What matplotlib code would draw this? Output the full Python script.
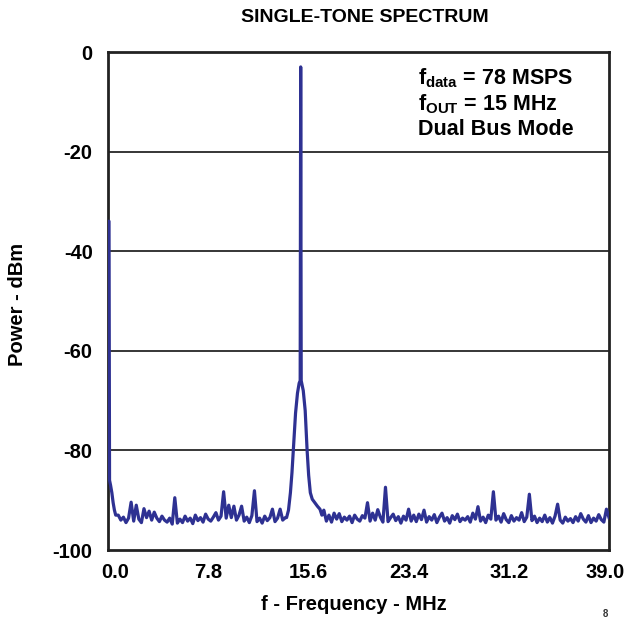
import numpy as np
import matplotlib
matplotlib.use("Agg")
import matplotlib.pyplot as plt
import matplotlib.transforms as mtransforms

plt.rcParams['font.family'] = ['Liberation Sans', 'DejaVu Sans']
plt.rcParams['font.weight'] = 'bold'
plt.rcParams['mathtext.fontset'] = 'custom'
plt.rcParams['mathtext.rm'] = 'Liberation Sans:bold'
plt.rcParams['mathtext.it'] = 'Liberation Sans:bold'
plt.rcParams['mathtext.bf'] = 'Liberation Sans:bold'

# Noise-floor trace on a 0.2 MHz grid, 0.0 .. 39.0 MHz (dBm)
grid_step = 0.2
noise_dbm = [
    -34.0, -88.0, -91.0, -92.5, -93.0, -94.0, -93.4, -94.5, -93.6, -90.4,
    -94.2, -91.0, -93.8, -94.5, -91.7, -93.5, -92.2, -94.0, -92.4, -93.6,
    -94.3, -93.2, -94.0, -94.4, -93.6, -94.8, -89.5, -94.6, -93.8, -94.5,
    -93.2, -94.2, -93.6, -94.7, -93.0, -94.1, -93.5, -94.4, -92.8, -93.8,
    -94.2, -93.4, -92.5, -94.0, -93.2, -88.3, -93.6, -91.0, -93.5, -91.2,
    -94.0, -93.0, -91.2, -94.2, -93.4, -94.5, -93.1, -88.1, -94.3, -93.6,
    -94.6, -93.2, -94.1, -93.5, -91.8, -94.3, -93.6, -91.8, -94.0, -93.5,
    -93.0, -88.5, -81.0, -74.0, -68.0, -3.0, -68.0, -72.0, -85.0, -88.0,
    -89.5, -90.5, -91.5, -92.5, -92.0, -94.2, -93.0, -94.4, -92.6, -93.8,
    -92.7, -94.3, -93.4, -94.0, -93.2, -94.5, -93.0, -93.8, -94.2, -93.1,
    -93.6, -90.5, -94.2, -92.6, -94.0, -91.9, -93.4, -94.4, -87.4, -94.3,
    -93.5, -92.8, -94.1, -93.3, -94.6, -93.2, -94.0, -91.8, -94.2, -93.0,
    -94.3, -92.8, -93.9, -92.0, -94.4, -93.3, -94.0, -92.9, -94.5, -93.4,
    -92.6, -94.2, -93.5, -94.6, -93.1, -93.9, -92.8, -94.3, -93.6, -94.0,
    -93.3, -94.4, -92.6, -93.8, -91.3, -94.2, -93.4, -94.5, -93.0, -93.8,
    -88.3, -94.0, -93.2, -94.4, -92.7, -93.9, -94.5, -93.1, -94.2, -93.5,
    -94.0, -92.5, -94.3, -93.4, -88.8, -94.1, -93.2, -94.5, -93.6, -94.3,
    -93.0, -94.4, -93.5, -94.6, -93.2, -90.8, -94.0, -94.6, -93.4, -94.2,
    -93.7, -94.5, -93.3, -94.2, -92.7, -93.8, -94.4, -93.1, -94.5, -93.6,
    -94.2, -92.9, -93.9, -94.4, -91.8, -93.5,
]

# Fine detail near DC
dc_mhz = [0.0, 0.08, 0.12, 0.2, 0.3, 0.4, 0.5, 0.6]
dc_dbm = [-34.0, -34.0, -86.0, -87.0, -88.5, -90.5, -92.0, -93.0]

# Fine detail around the 15 MHz tone
tone_mhz = [13.9, 14.05, 14.2, 14.32, 14.45, 14.6, 14.75, 14.88, 14.96, 15.0,
            15.04, 15.12, 15.2, 15.35, 15.5, 15.62, 15.75, 15.9, 16.1, 16.3,
            16.5, 16.65]
tone_dbm = [-93.5, -92.0, -88.5, -84.5, -79.0, -72.5, -68.5, -66.5, -66.0, -3.0,
            -66.0, -67.0, -68.0, -72.0, -80.0, -85.0, -88.5, -89.8, -90.5, -91.2,
            -91.8, -93.0]

x_ticks = [0.0, 7.8, 15.6, 23.4, 31.2, 39.0]
x_tick_labels = ["0.0", "7.8", "15.6", "23.4", "31.2", "39.0"]
y_ticks = [0, -20, -40, -60, -80, -100]
y_tick_labels = ["0", "-20", "-40", "-60", "-80", "-100"]

# Merge trace
grid_f = np.arange(len(noise_dbm)) * grid_step
grid_p = np.array(noise_dbm)
keep = (grid_f > 0.7) & ~((grid_f > 13.85) & (grid_f < 16.7))
f_all = np.concatenate([np.array(dc_mhz), grid_f[keep], np.array(tone_mhz)])
p_all = np.concatenate([np.array(dc_dbm), grid_p[keep], np.array(tone_dbm)])
order = np.argsort(f_all, kind="stable")
f_all = f_all[order]
p_all = p_all[order]

W, H = 629, 620
fig = plt.figure(figsize=(6.29, 6.20), dpi=100)
ax = fig.add_axes([108 / W, 1 - 550 / H, (609 - 108) / W, (550 - 52) / H])

for yv in [-20, -40, -60, -80]:
    ax.axhline(yv, color='black', lw=1.1, zorder=1)

ax.plot(f_all, p_all, color='#2E3192', lw=2.3, solid_joinstyle='round', zorder=3)

ax.set_xlim(0, 39)
ax.set_ylim(-100, 0)
ax.set_xticks(x_ticks)
ax.set_xticklabels(x_tick_labels)
ax.set_yticks(y_ticks)
ax.set_yticklabels(y_tick_labels)
ax.tick_params(axis='x', length=0, labelsize=14.5, pad=9)
ax.tick_params(axis='y', length=0, labelsize=14.5, pad=11)
for lbl in ax.get_xticklabels() + ax.get_yticklabels():
    lbl.set_fontweight('bold')

# nudge end x labels inward like the reference
xl = ax.get_xticklabels()
xl[0].set_transform(xl[0].get_transform() +
                    mtransforms.ScaledTranslation(7 / 100, 0, fig.dpi_scale_trans))
xl[-1].set_transform(xl[-1].get_transform() +
                     mtransforms.ScaledTranslation(-4 / 100, 0, fig.dpi_scale_trans))

for s in ax.spines.values():
    s.set_linewidth(2.0)
    s.set_color('#222222')

fig.text(365 / W, 1 - 18 / H, "SINGLE-TONE SPECTRUM", fontsize=14,
         fontweight='bold', ha='center', va='center')
fig.text(354 / W, 1 - 605 / H, "f - Frequency - MHz", fontsize=14.5,
         fontweight='bold', ha='center', va='center')
fig.text(18 / W, 1 - 304 / H, "Power - dBm", fontsize=14.5, rotation=90,
         fontweight='bold', ha='center', va='center')

ax.text(418 / W, 1 - 66 / H, r"f$_{\rm data}$ = 78 MSPS", transform=fig.transFigure,
        fontsize=15.5, fontweight='bold', va='top', ha='left')
ax.text(418 / W, 1 - 92 / H, r"f$_{\rm OUT}$ = 15 MHz", transform=fig.transFigure,
        fontsize=15.5, fontweight='bold', va='top', ha='left')
ax.text(418 / W, 1 - 119 / H, "Dual Bus Mode", transform=fig.transFigure,
        fontsize=15.5, fontweight='bold', va='top', ha='left')

fig.text(605 / W, 0.001, "8", fontsize=7, color='#333333', ha='center', va='bottom')

fig.savefig("out.png", dpi=100)
